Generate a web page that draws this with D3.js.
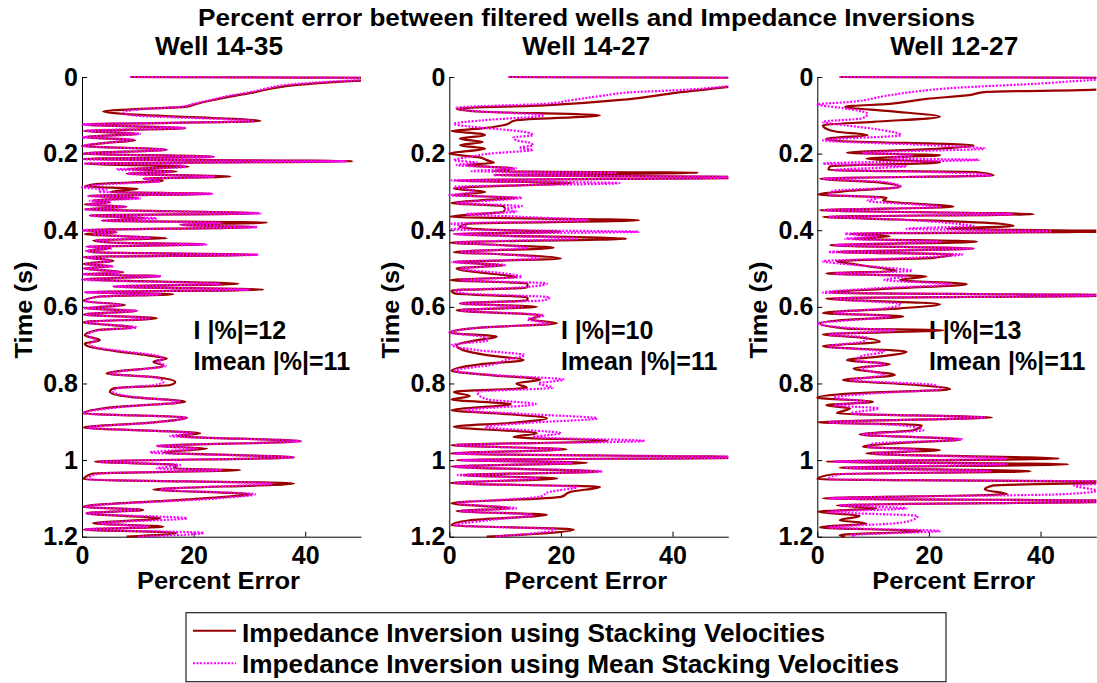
<!DOCTYPE html>
<html>
<head>
<meta charset="utf-8">
<script src="https://cdn.jsdelivr.net/npm/d3@7"></script>
<style>
  html, body { margin: 0; padding: 0; background: #fff; }
  svg text { font-family: "Liberation Sans", Arial, Helvetica, sans-serif; font-weight: bold; fill: #000; }
</style>
</head>
<body>
<svg id="chart" width="1097" height="683"></svg>
<script>
// ---- Data: [time (s), percent error] ----
const wellNames = ["Well 14-35", "Well 14-27", "Well 12-27"];
const stackStats = ["I |%|=12", "I |%|=10", "I |%|=13"];
const meanStats = ["Imean |%|=11", "Imean |%|=11", "Imean |%|=11"];
const timeTicks = [0, 0.2, 0.4, 0.6, 0.8, 1, 1.2];
const errorTicks = [0, 20, 40];
const legendLabels = [
  "Impedance Inversion using Stacking Velocities",
  "Impedance Inversion using Mean Stacking Velocities"
];

const well1435Stack = [[0,8.6],[0.003,58],[0.01,49],[0.02,39],[0.03,34],[0.04,30.8],[0.05,27],[0.06,23.6],[0.07,20.5],[0.078,18.5],[0.083,10.4],[0.09,3.8],[0.097,8],[0.115,32],[0.124,0.3],[0.134,18.5],[0.141,0.3],[0.148,10],[0.157,0.5],[0.165,9.5],[0.172,4.4],[0.18,0.3],[0.19,15.2],[0.2,0.3],[0.208,23.6],[0.214,0.3],[0.22,48.5],[0.226,0.5],[0.234,19.1],[0.24,8],[0.247,17],[0.252,8],[0.26,26.6],[0.265,11],[0.271,14.5],[0.279,3],[0.286,0.5],[0.292,10],[0.3,5],[0.305,23.3],[0.31,1.1],[0.316,10.1],[0.322,2],[0.327,5],[0.333,0.5],[0.339,8],[0.345,0.5],[0.356,31.7],[0.361,1.4],[0.369,11.5],[0.375,3.5],[0.38,33.2],[0.386,17.6],[0.392,31.1],[0.4,0.3],[0.405,6.2],[0.41,0.5],[0.416,8],[0.421,15.2],[0.426,2],[0.432,5],[0.437,21.8],[0.443,1],[0.447,5],[0.454,1],[0.458,3],[0.464,31.4],[0.47,0.3],[0.48,5.6],[0.488,0.3],[0.494,5.4],[0.5,0.3],[0.51,7.4],[0.515,0.3],[0.52,14],[0.528,0.3],[0.54,28],[0.547,5.6],[0.555,32.5],[0.562,0.5],[0.567,16.4],[0.573,3.2],[0.585,0.3],[0.595,7.7],[0.604,0.8],[0.61,9.8],[0.62,0.3],[0.63,13.4],[0.64,0.3],[0.654,9.2],[0.661,2.6],[0.674,0.5],[0.687,3.2],[0.696,0.5],[0.704,1.4],[0.716,6.2],[0.726,11.6],[0.735,15.2],[0.743,12.8],[0.754,14.6],[0.774,4.4],[0.785,14],[0.796,16.7],[0.804,15.8],[0.813,5.6],[0.822,5],[0.835,8.6],[0.848,18.5],[0.861,6.2],[0.878,0.3],[0.889,18.8],[0.903,11.6],[0.915,0.3],[0.93,21.2],[0.937,17],[0.951,39.2],[0.963,13.4],[0.97,22.4],[0.98,14.6],[0.993,38],[1.004,2.3],[1.013,17],[1.022,16.4],[1.026,28.4],[1.035,2],[1.05,0.3],[1.061,38],[1.077,12.8],[1.089,30.2],[1.1,21.8],[1.122,0.2],[1.13,11],[1.139,0.8],[1.152,14],[1.165,2],[1.174,14.6],[1.181,0.3],[1.19,17],[1.2,8]];

const well1435Mean = [[0,8.6],[0.003,58],[0.01,47],[0.02,37],[0.03,33],[0.04,30],[0.05,26],[0.06,23],[0.07,20],[0.078,17.5],[0.085,10],[0.093,7.4],[0.1,9],[0.115,30.8],[0.124,0],[0.133,18.5],[0.14,0.5],[0.148,10.4],[0.158,0],[0.163,9.2],[0.17,5.5],[0.18,0],[0.19,15],[0.2,0.5],[0.209,23.6],[0.215,0.3],[0.22,47.5],[0.226,0.3],[0.228,16.4],[0.235,18.5],[0.241,6.2],[0.248,16],[0.253,8.2],[0.26,23.8],[0.266,11.3],[0.272,14],[0.28,4.4],[0.288,0],[0.294,4.4],[0.3,3],[0.305,23.3],[0.311,1.2],[0.317,10.4],[0.323,1.4],[0.327,5],[0.333,1],[0.339,8],[0.346,0.5],[0.356,32],[0.362,1.4],[0.369,13.4],[0.375,3.5],[0.381,25],[0.386,18],[0.392,31.4],[0.4,0],[0.405,6],[0.41,2],[0.416,8],[0.42,12.2],[0.426,2.6],[0.432,5],[0.437,22.4],[0.443,0.8],[0.447,5.4],[0.454,0.7],[0.458,3.2],[0.464,31.6],[0.47,0.5],[0.48,5],[0.489,0.5],[0.494,5.6],[0.5,0.5],[0.51,7],[0.515,0],[0.52,14],[0.529,0],[0.54,24.8],[0.547,5.6],[0.555,30],[0.562,0.5],[0.567,14],[0.573,3.2],[0.585,0.5],[0.595,6.8],[0.604,0.5],[0.61,9.8],[0.62,0.5],[0.63,12],[0.64,0.5],[0.654,9.8],[0.661,3],[0.674,1],[0.687,2.6],[0.696,1.4],[0.704,2],[0.716,7.4],[0.726,13],[0.735,14.6],[0.743,13.4],[0.754,15],[0.774,5],[0.785,13.4],[0.796,14.6],[0.804,13],[0.813,6.2],[0.822,5.6],[0.835,9.2],[0.848,17.6],[0.861,7.4],[0.878,0.2],[0.889,18.8],[0.903,12.2],[0.915,1],[0.93,20],[0.937,15.8],[0.951,39.2],[0.963,13.4],[0.97,20.6],[0.98,12.2],[0.993,38],[1.004,3.2],[1.013,17.6],[1.022,13.4],[1.026,25],[1.035,3.2],[1.05,1],[1.061,34],[1.077,14],[1.089,31],[1.1,24.2],[1.122,0.5],[1.13,10.4],[1.139,0.8],[1.152,18.8],[1.165,3],[1.174,12],[1.181,0.5],[1.19,21.8],[1.2,10]];

const well1427Stack = [[0,10.6],[0.003,58],[0.015,55],[0.026,50],[0.039,42],[0.048,37.4],[0.059,31.4],[0.074,17],[0.083,1.3],[0.09,5],[0.1,27],[0.113,12],[0.126,9.7],[0.135,5.5],[0.141,0.4],[0.148,5.5],[0.152,6.4],[0.161,1.9],[0.17,6],[0.178,1.9],[0.187,6.4],[0.2,0],[0.21,5.5],[0.217,6.7],[0.224,8],[0.23,3],[0.239,11.5],[0.246,8],[0.25,44.6],[0.256,8],[0.262,58],[0.27,1.3],[0.277,22],[0.287,3.7],[0.291,0.8],[0.3,6.4],[0.309,0.8],[0.315,12],[0.322,5.5],[0.329,0.4],[0.337,9.7],[0.345,10],[0.352,9.7],[0.358,5],[0.365,0.2],[0.374,34],[0.383,3.2],[0.391,1.9],[0.398,6],[0.404,20],[0.41,0.8],[0.422,31.7],[0.432,0.2],[0.439,9.7],[0.446,18.7],[0.457,0.8],[0.463,9.7],[0.474,20],[0.483,0.8],[0.491,9.7],[0.5,1.3],[0.513,7],[0.522,12],[0.53,0.2],[0.539,14],[0.55,14],[0.557,0.4],[0.565,1],[0.575,14],[0.583,14],[0.591,1.9],[0.6,15.7],[0.609,1.3],[0.622,16.4],[0.633,14.5],[0.643,19.3],[0.654,5.5],[0.667,0.2],[0.678,8.5],[0.687,5],[0.7,1.3],[0.713,2.5],[0.726,6.7],[0.739,13.3],[0.75,5.5],[0.767,0.4],[0.778,7.3],[0.79,16.3],[0.8,12],[0.811,13.9],[0.822,0.8],[0.833,3.7],[0.842,0.4],[0.854,11],[0.87,0.4],[0.88,10.3],[0.891,17.5],[0.903,11],[0.913,0.8],[0.93,15.7],[0.94,11.5],[0.95,28.3],[0.961,0.4],[0.972,21],[0.983,0.2],[0.993,55],[1.0,1.3],[1.007,24.7],[1.017,0.4],[1.03,27],[1.039,2.5],[1.048,19.3],[1.06,0.2],[1.07,27],[1.083,21.7],[1.096,20],[1.113,0.4],[1.126,10.9],[1.133,1.3],[1.143,17.5],[1.157,3.7],[1.17,0.4],[1.181,22.3],[1.2,6.7]];

const well1427Mean = [[0,10.6],[0.003,58],[0.012,55],[0.024,50],[0.035,40],[0.039,33.7],[0.05,27],[0.06,22],[0.07,17],[0.08,1.3],[0.088,4],[0.1,17],[0.113,6],[0.122,0.8],[0.13,4],[0.139,11],[0.145,14],[0.152,15],[0.158,11.5],[0.165,12],[0.172,14.5],[0.178,15],[0.185,12.5],[0.19,15],[0.2,7.3],[0.21,3],[0.217,0.8],[0.224,5],[0.23,1.3],[0.239,12],[0.246,4],[0.25,30],[0.256,8],[0.262,58],[0.27,0.4],[0.277,30.5],[0.287,0.8],[0.291,2.5],[0.3,4.5],[0.309,0],[0.315,13],[0.322,8],[0.329,1.3],[0.337,13],[0.345,10],[0.352,12],[0.358,3],[0.365,13],[0.374,25],[0.383,0.4],[0.391,3.2],[0.398,0.4],[0.404,34],[0.41,1],[0.422,23],[0.432,1],[0.439,9],[0.446,14],[0.457,2],[0.463,10],[0.474,16],[0.483,0.5],[0.491,10],[0.5,2],[0.513,10],[0.522,13],[0.53,2],[0.539,17.5],[0.55,12],[0.557,1],[0.565,3],[0.575,18],[0.583,17],[0.591,2],[0.6,13],[0.609,2],[0.622,17],[0.633,14],[0.643,18],[0.654,6],[0.667,0],[0.678,6],[0.687,7],[0.7,0.4],[0.713,5],[0.726,13.5],[0.739,10],[0.75,8],[0.767,1],[0.778,8],[0.79,20.5],[0.8,16],[0.811,18.5],[0.822,5],[0.833,5.5],[0.842,7],[0.854,15.5],[0.87,3],[0.88,14],[0.891,26.5],[0.903,14],[0.913,6.5],[0.93,20],[0.94,15],[0.95,35],[0.961,1],[0.972,20],[0.983,1],[0.993,55],[1.0,2],[1.007,22],[1.017,1],[1.03,27.5],[1.039,1.5],[1.048,16],[1.06,1],[1.07,23],[1.083,18],[1.096,16],[1.113,1.5],[1.126,12],[1.133,2],[1.143,15],[1.157,7],[1.17,1],[1.181,19],[1.2,8]];

const well1227Stack = [[0,4],[0.003,58],[0.02,55],[0.033,50],[0.039,30.4],[0.048,26.8],[0.057,19.6],[0.07,13],[0.078,5],[0.089,13],[0.104,22],[0.117,10],[0.126,1],[0.135,1.6],[0.143,3.5],[0.152,9],[0.161,1.6],[0.167,4],[0.178,28],[0.187,22],[0.198,5.3],[0.204,22],[0.213,8.8],[0.223,22],[0.233,2.3],[0.243,2],[0.248,28.3],[0.257,31.6],[0.265,0.5],[0.274,10],[0.287,14.8],[0.297,5.9],[0.307,0.2],[0.315,12.4],[0.323,11.8],[0.339,24.4],[0.348,0.5],[0.358,38.8],[0.365,1],[0.372,14.8],[0.383,32.8],[0.389,35.2],[0.396,23.2],[0.403,55],[0.409,5.9],[0.416,13],[0.422,6.5],[0.43,28.6],[0.439,2.3],[0.448,28],[0.457,3.5],[0.463,24.4],[0.472,20.8],[0.481,3.5],[0.487,5.9],[0.496,10],[0.506,14.2],[0.513,1.6],[0.52,19.6],[0.53,14.8],[0.541,26.8],[0.552,13.6],[0.563,2.3],[0.57,55],[0.578,1.6],[0.593,22],[0.604,14.8],[0.616,1],[0.625,15.4],[0.635,4],[0.643,0.5],[0.657,5.3],[0.661,22.6],[0.672,1],[0.68,7.6],[0.691,11.2],[0.703,1],[0.717,16],[0.728,12.2],[0.739,5.3],[0.75,13],[0.761,6.5],[0.778,13.9],[0.791,4.6],[0.804,17.8],[0.815,23.8],[0.826,6.5],[0.837,0],[0.848,10],[0.857,1.6],[0.865,5.9],[0.878,3.5],[0.889,31.3],[0.901,0.2],[0.909,18.7],[0.922,17.2],[0.933,7.6],[0.946,25.6],[0.957,13],[0.965,8.2],[0.974,22],[0.983,8.8],[0.996,43.3],[1.004,1.6],[1.011,45],[1.02,4],[1.029,38.2],[1.037,2.9],[1.05,0],[1.057,58],[1.066,31.6],[1.077,30],[1.089,34],[1.1,1],[1.107,58],[1.118,3.5],[1.126,10.6],[1.135,0.2],[1.146,7.6],[1.157,4],[1.165,8.8],[1.176,0.5],[1.185,18.7],[1.196,4],[1.2,5]];

const well1227Mean = [[0,4],[0.003,58],[0.004,55],[0.01,47],[0.017,40],[0.028,25],[0.039,17],[0.05,12],[0.065,6],[0.072,0],[0.08,4],[0.096,9],[0.108,8],[0.117,1],[0.126,5],[0.135,10],[0.152,15],[0.165,1],[0.178,20],[0.187,30],[0.198,8],[0.204,17],[0.213,13],[0.216,29],[0.226,1],[0.233,16],[0.243,3],[0.248,20],[0.257,31],[0.265,1],[0.274,12],[0.287,15],[0.297,3],[0.307,2],[0.315,11],[0.323,9],[0.339,22],[0.348,1],[0.358,35],[0.365,2],[0.372,14],[0.383,25],[0.389,28],[0.396,16],[0.403,42],[0.409,5],[0.416,11],[0.422,5],[0.43,22],[0.439,3],[0.448,28],[0.457,2],[0.463,26],[0.472,17],[0.481,1],[0.487,4],[0.496,11],[0.506,17],[0.513,3],[0.52,16],[0.53,12],[0.541,24],[0.552,10],[0.563,1],[0.57,55],[0.578,3],[0.593,15],[0.604,12],[0.616,3],[0.625,13],[0.635,6],[0.643,0],[0.657,8],[0.661,14],[0.672,2],[0.68,9],[0.691,8],[0.703,2],[0.717,12],[0.728,8],[0.739,7],[0.75,12],[0.761,8],[0.778,12],[0.791,6],[0.804,21],[0.815,22],[0.826,10],[0.837,3],[0.848,9],[0.857,3],[0.865,11],[0.878,6],[0.889,30],[0.901,2],[0.909,15],[0.922,19],[0.933,8],[0.946,26],[0.957,10],[0.965,9],[0.974,18],[0.983,10],[0.996,34],[1.004,3],[1.011,34],[1.02,5],[1.029,31],[1.037,4],[1.05,2],[1.057,58],[1.066,46],[1.08,50],[1.089,44],[1.1,2],[1.107,58],[1.118,4],[1.126,16],[1.135,2],[1.146,18],[1.157,17],[1.165,14],[1.176,2],[1.185,22],[1.196,6],[1.2,7]];

const stackSeries = [well1435Stack, well1427Stack, well1227Stack];
const meanSeries = [well1435Mean, well1427Mean, well1227Mean];

// ---- Layout ----
const svg = d3.select("#chart");
const panelLeft = [82, 449.3, 817.3];
const plotW = 279;
const plotTop = 77;
const plotBottom = 536.7;
const stackColor = "#990000";
const meanColor = "#ff00ff";
const fontStack = '"Liberation Sans", Arial, Helvetica, sans-serif';

svg.append("rect").attr("width", 1097).attr("height", 683).attr("fill", "#fff");

function addText(parent, str, x, y, size, anchor, width) {
  const t = parent.append("text")
    .attr("x", x).attr("y", y)
    .attr("font-size", size)
    .attr("text-anchor", anchor || "start")
    .text(str);
  if (width) t.attr("textLength", width).attr("lengthAdjust", "spacingAndGlyphs");
  return t;
}

// Figure title
addText(svg, "Percent error between filtered wells and Impedance Inversions", 586.5, 26, 23, "middle", 777);

const defs = svg.append("defs");

panelLeft.forEach((left, i) => {
  const x = d3.scaleLinear().domain([0, 50]).range([left, left + plotW]);
  const y = d3.scaleLinear().domain([0, 1.2]).range([plotTop, plotBottom]);
  const g = svg.append("g");

  // Panel title
  addText(g, wellNames[i], left + 137, 55, 25, "middle", 128);

  // Axes (ticks point inward)
  const yAxis = d3.axisLeft(y)
    .tickValues(timeTicks)
    .tickSize(-5).tickSizeOuter(0).tickPadding(4)
    .tickFormat(d => d3.format("~g")(d));
  const xAxis = d3.axisBottom(x)
    .tickValues(errorTicks)
    .tickSize(-5).tickSizeOuter(0).tickPadding(10)
    .tickFormat(d3.format("d"));

  const ya = g.append("g").attr("transform", `translate(${left},0)`).call(yAxis);
  const xa = g.append("g").attr("transform", `translate(0,${plotBottom})`).call(xAxis);
  [ya, xa].forEach(a => {
    a.selectAll("path.domain").attr("stroke", "#000").attr("stroke-width", 1);
    a.selectAll(".tick line").attr("stroke", "#000").attr("stroke-width", 1);
    a.selectAll(".tick text")
      .attr("font-family", fontStack).attr("font-weight", "bold")
      .attr("font-size", 25).attr("fill", "#000");
  });

  // Axis labels
  addText(g, "Percent Error", left + 136.4, 589, 24, "middle", 163);
  addText(g, "Time (s)", 0, 0, 24, "middle", 97)
    .attr("transform", `translate(${left - 50},310) rotate(-90)`);

  // Mean absolute error annotations
  addText(g, stackStats[i], x(20), 338.5, 25, "start");
  addText(g, meanStats[i], x(20), 370, 25, "start");

  // Error traces, clipped to the plot area
  const clipId = "clip" + i;
  defs.append("clipPath").attr("id", clipId)
    .append("rect")
    .attr("x", left - 2).attr("y", plotTop - 4)
    .attr("width", plotW + 2).attr("height", plotBottom - plotTop + 6);

  const line = d3.line()
    .x(d => x(d[1]))
    .y(d => y(d[0]))
    .curve(d3.curveMonotoneY);

  const traces = g.append("g").attr("clip-path", `url(#${clipId})`);
  traces.append("path")
    .datum(stackSeries[i])
    .attr("d", line)
    .attr("fill", "none")
    .attr("stroke", stackColor)
    .attr("stroke-width", 2.2)
    .attr("stroke-linejoin", "round");
  traces.append("path")
    .datum(meanSeries[i])
    .attr("d", line)
    .attr("fill", "none")
    .attr("stroke", meanColor)
    .attr("stroke-width", 2.2)
    .attr("stroke-dasharray", "2,1.5");
});

// Legend
const lg = svg.append("g");
lg.append("rect")
  .attr("x", 186).attr("y", 612.7).attr("width", 760).attr("height", 69)
  .attr("fill", "#fff").attr("stroke", "#222").attr("stroke-width", 1.2);
const legendStyles = [
  { color: stackColor, dash: null, y: 630.7, base: 641.7, width: 583 },
  { color: meanColor, dash: "2,1.5", y: 663.3, base: 673.3, width: 657 }
];
legendStyles.forEach((s, k) => {
  lg.append("line")
    .attr("x1", 193).attr("x2", 236).attr("y1", s.y).attr("y2", s.y)
    .attr("stroke", s.color).attr("stroke-width", 2)
    .attr("stroke-dasharray", s.dash);
  addText(lg, legendLabels[k], 242, s.base, 25, "start", s.width);
});
</script>
</body>
</html>
